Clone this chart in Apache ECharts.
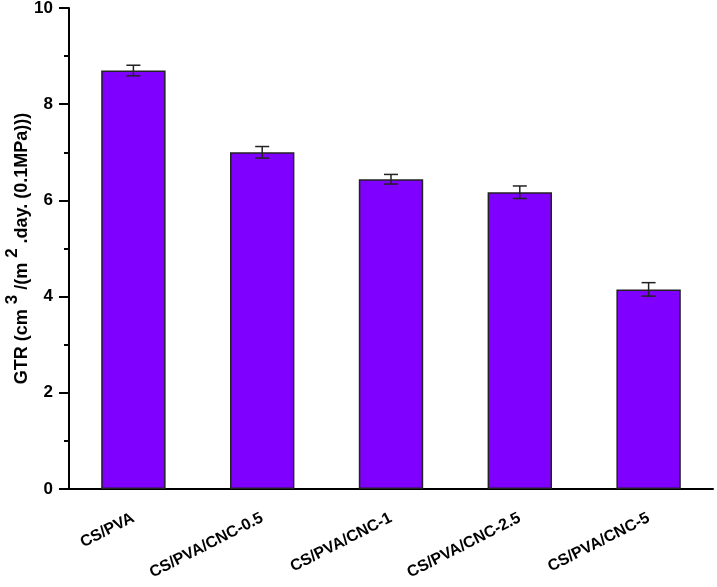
<!DOCTYPE html>
<html>
<head>
<meta charset="utf-8">
<script src="https://cdn.jsdelivr.net/npm/echarts@6/dist/echarts.min.js"></script>
<style>
  html, body { margin: 0; padding: 0; background: #fff; }
  #chart { width: 717px; height: 587px; }
</style>
</head>
<body>
<div id="chart"></div>
<script>
const categories = ['CS/PVA', 'CS/PVA/CNC-0.5', 'CS/PVA/CNC-1', 'CS/PVA/CNC-2.5', 'CS/PVA/CNC-5'];
const gtrValues = [8.70, 7.00, 6.44, 6.17, 4.15];
const gtrErrors = [0.11, 0.12, 0.10, 0.13, 0.14];
const yTicks = [0, 2, 4, 6, 8, 10];

const chart = echarts.init(document.getElementById('chart'));
const font = 'Liberation Sans, Arial, sans-serif';

// error bar data: [index, low, high]
const errData = gtrValues.map((v, i) => [i, v - gtrErrors[i], v + gtrErrors[i]]);

const option = {
  animation: false,
  grid: { left: 69, right: 4, top: 8, bottom: 98, outerBoundsMode: 'none', containLabel: false },
  xAxis: [
    {
      type: 'category',
      data: categories,
      axisLine: { lineStyle: { color: '#000', width: 2 } },
      axisTick: { alignWithLabel: true, length: 9, lineStyle: { color: '#000', width: 2 } },
      axisLabel: {
        rotate: 27, color: '#000', fontSize: 16, fontWeight: 'bold', fontFamily: font, margin: 28
      }
    },
    {
      // boundary ticks between categories
      type: 'category',
      data: categories,
      position: 'bottom',
      axisLine: { show: false },
      axisTick: { length: 5, lineStyle: { color: '#000', width: 2 } },
      axisLabel: { show: false }
    }
  ],
  yAxis: {
    type: 'value',
    min: yTicks[0],
    max: yTicks[yTicks.length - 1],
    interval: 2,
    axisLine: { show: true, lineStyle: { color: '#000', width: 2 } },
    axisTick: { show: true, length: 10, lineStyle: { color: '#000', width: 2 } },
    minorTick: { show: true, splitNumber: 2, length: 5, lineStyle: { color: '#000', width: 2 } },
    splitLine: { show: false },
    axisLabel: { color: '#000', fontSize: 17, fontWeight: 'bold', fontFamily: font, margin: 16 },
    name: '{t|GTR (cm}{s|3}{t|/(m}{s|2}{t|.day. (0.1MPa)))}',
    nameLocation: 'middle',
    nameRotate: 90,
    nameGap: 28,
    nameMoveOverlap: false,
    nameTextStyle: {
      rich: {
        t: { fontSize: 18, fontWeight: 'bold', fontFamily: font, color: '#000' },
        s: { fontSize: 17, fontWeight: 'bold', fontFamily: font, color: '#000', padding: [0, 5, 20, 5] }
      }
    }
  },
  series: [
    {
      type: 'bar',
      data: gtrValues,
      barWidth: '50%',
      itemStyle: { color: '#8000ff', borderColor: '#222', borderWidth: 1.5 }
    },
    {
      type: 'custom',
      data: errData,
      z: 10,
      renderItem: function (params, api) {
        const x = api.value(0);
        const lo = api.coord([x, api.value(1)]);
        const hi = api.coord([x, api.value(2)]);
        const half = 7;
        const style = { stroke: '#222', lineWidth: 1.5 };
        return {
          type: 'group',
          children: [
            { type: 'line', shape: { x1: hi[0], y1: hi[1], x2: lo[0], y2: lo[1] }, style: style },
            { type: 'line', shape: { x1: hi[0] - half, y1: hi[1], x2: hi[0] + half, y2: hi[1] }, style: style },
            { type: 'line', shape: { x1: lo[0] - half, y1: lo[1], x2: lo[0] + half, y2: lo[1] }, style: style }
          ]
        };
      }
    }
  ]
};

chart.setOption(option);
window.addEventListener('resize', () => chart.resize());
</script>
</body>
</html>
